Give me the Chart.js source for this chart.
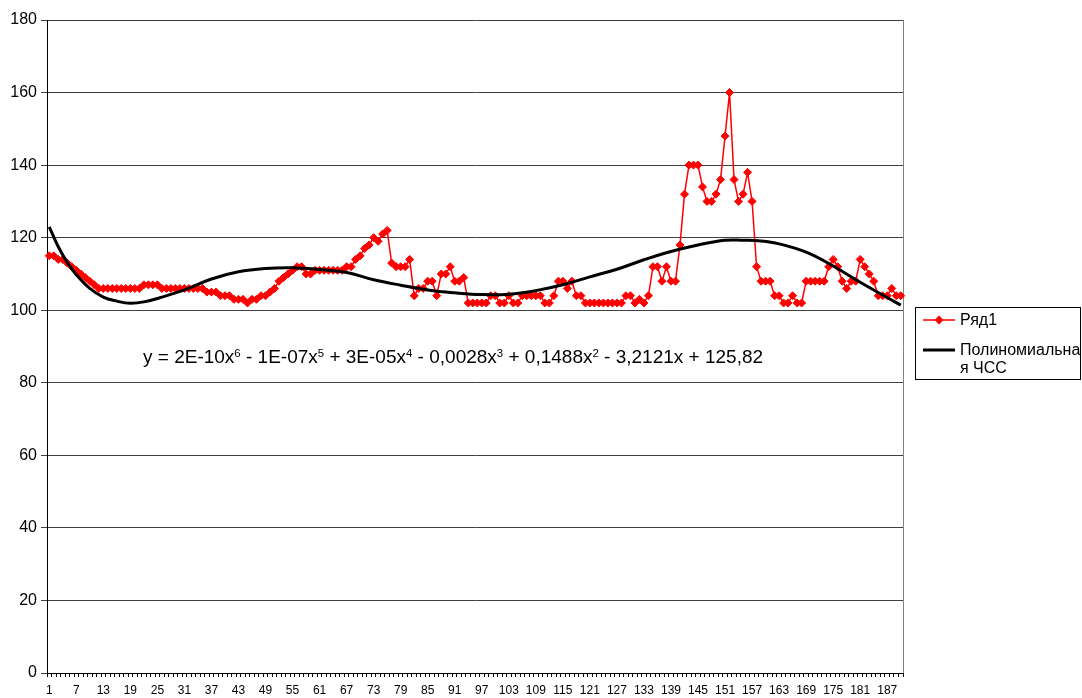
<!DOCTYPE html>
<html>
<head>
<meta charset="utf-8">
<script src="https://cdn.jsdelivr.net/npm/chart.js@4.4.1/dist/chart.umd.min.js"></script>
<style>
  html, body { margin: 0; padding: 0; background: #fff; }
  #wrap { position: relative; width: 1082px; height: 698px; overflow: hidden; }
  #eq {
    position: absolute; left: 143px; top: 346px;
    font-family: Arial, "Liberation Sans", sans-serif; font-size: 19px;
    color: #000; white-space: nowrap; line-height: 22px;
  }
  #eq sup { font-size: 0.6em; position: relative; top: -0.55em; vertical-align: baseline; line-height: 0; }
</style>
</head>
<body>
<div id="wrap">
  <canvas id="chart" width="1082" height="698"></canvas>
  <div id="eq">y = 2E-10x<sup>6</sup> - 1E-07x<sup>5</sup> + 3E-05x<sup>4</sup> - 0,0028x<sup>3</sup> + 0,1488x<sup>2</sup> - 3,2121x + 125,82</div>
</div>
<script>
// ─── DATA ───
// categories 1..190 (x axis is just the sample number)
const categories = Array.from({ length: 190 }, (_, i) => String(i + 1));
const xTickLabels = ['1','7','13','19','25','31','37','43','49','55','61','67','73','79','85','91','97',
  '103','109','115','121','127','133','139','145','151','157','163','169','175','181','187'];

// Ряд1 – heart rate readings
const hrValues = [
  115, 115, 114, 114, 113, 112, 111, 110, 109, 108,
  107, 106, 106, 106, 106, 106, 106, 106, 106, 106,
  106, 107, 107, 107, 107, 106, 106, 106, 106, 106,
  106, 106, 106, 106, 106, 105, 105, 105, 104, 104,
  104, 103, 103, 103, 102, 103, 103, 104, 104, 105,
  106, 108, 109, 110, 111, 112, 112, 110, 110, 111,
  111, 111, 111, 111, 111, 111, 112, 112, 114, 115,
  117, 118, 120, 119, 121, 122, 113, 112, 112, 112,
  114, 104, 106, 106, 108, 108, 104, 110, 110, 112,
  108, 108, 109, 102, 102, 102, 102, 102, 104, 104,
  102, 102, 104, 102, 102, 104, 104, 104, 104, 104,
  102, 102, 104, 108, 108, 106, 108, 104, 104, 102,
  102, 102, 102, 102, 102, 102, 102, 102, 104, 104,
  102, 103, 102, 104, 112, 112, 108, 112, 108, 108,
  118, 132, 140, 140, 140, 134, 130, 130, 132, 136,
  148, 160, 136, 130, 132, 138, 130, 112, 108, 108,
  108, 104, 104, 102, 102, 104, 102, 102, 108, 108,
  108, 108, 108, 112, 114, 112, 108, 106, 108, 108,
  114, 112, 110, 108, 104, 104, 104, 106, 104, 104
];

// polynomial trend at these categories
const trendCats = [1, 3, 5, 7, 10, 13, 16, 19, 22, 26, 31, 37, 43, 49, 55, 61, 67, 73, 79, 85,
  91, 97, 103, 109, 115, 121, 127, 133, 139, 145, 151, 155, 159, 163, 169, 175, 181, 187, 190];
const trendVals = [123, 117.5, 113.2, 109.8, 106, 103.6, 102.5, 101.9, 102.3, 103.6, 105.6, 108.6,
  110.6, 111.5, 111.7, 111.2, 110.4, 108.4, 106.9, 105.6, 104.8, 104.3, 104.4, 105.4, 107, 109.2,
  111.3, 113.9, 116.2, 118.0, 119.3, 119.3, 119.1, 118.3, 116, 112.2, 107.7, 103.5, 101.4];

const seriesName = 'Ряд1';
const trendName = 'Полиномиальная ЧСС';

// trend as sparse array over the categories
const trendData = categories.map(() => null);
trendCats.forEach((c, i) => { trendData[c - 1] = trendVals[i]; });

// ─── PLUGINS ───
const PLOT = { left: 47, right: 903, top: 20, bottom: 673 };

const frame = {
  id: 'frame',
  beforeDatasetsDraw(chart) {
    const ctx = chart.ctx, a = chart.chartArea;
    ctx.save();
    ctx.strokeStyle = '#808080';
    ctx.lineWidth = 1;
    ctx.beginPath();
    ctx.moveTo(Math.round(a.right) + 0.5, a.top);
    ctx.lineTo(Math.round(a.right) + 0.5, a.bottom);
    ctx.stroke();
    ctx.restore();
  }
};

const boxLegend = {
  id: 'boxLegend',
  afterDraw(chart) {
    const ctx = chart.ctx;
    ctx.save();
    ctx.strokeStyle = '#000';
    ctx.lineWidth = 1;
    ctx.strokeRect(915.5, 307.5, 165, 72);

    // Ряд1
    ctx.strokeStyle = '#ff0000';
    ctx.lineWidth = 1.5;
    ctx.beginPath(); ctx.moveTo(923, 320); ctx.lineTo(955, 320); ctx.stroke();
    ctx.fillStyle = '#ff0000';
    ctx.beginPath();
    ctx.moveTo(939, 315.5); ctx.lineTo(943.5, 320); ctx.lineTo(939, 324.5); ctx.lineTo(934.5, 320);
    ctx.closePath(); ctx.fill();

    // trend
    ctx.strokeStyle = '#000';
    ctx.lineWidth = 3;
    ctx.beginPath(); ctx.moveTo(923, 350); ctx.lineTo(955, 350); ctx.stroke();

    ctx.fillStyle = '#000';
    ctx.font = '16px Arial, "Liberation Sans", sans-serif';
    ctx.textBaseline = 'middle';
    ctx.fillText(seriesName, 960, 321);
    ctx.fillText('Полиномиальна', 960, 351);
    ctx.fillText('я ЧСС', 960, 369);
    ctx.restore();
  }
};

// ─── CHART ───
Chart.defaults.font.family = 'Arial, "Liberation Sans", sans-serif';
Chart.defaults.color = '#000';

new Chart(document.getElementById('chart'), {
  type: 'line',
  data: {
    labels: categories,
    datasets: [
      {
        label: trendName,
        data: trendData,
        borderColor: '#000',
        borderWidth: 3,
        pointRadius: 0,
        tension: 0.4,
        spanGaps: true,
        fill: false,
        order: 0
      },
      {
        label: seriesName,
        data: hrValues,
        borderColor: '#ff0000',
        backgroundColor: '#ff0000',
        borderWidth: 1.5,
        pointStyle: 'rectRot',
        pointRadius: 4,
        pointBorderWidth: 1,
        pointBackgroundColor: '#ff0000',
        pointBorderColor: '#ff0000',
        tension: 0,
        fill: false,
        order: 1
      }
    ]
  },
  options: {
    responsive: false,
    animation: false,
    events: [],
    layout: { padding: { left: 0, right: 1082 - PLOT.right, top: PLOT.top, bottom: 0 } },
    plugins: { legend: { display: false }, tooltip: { enabled: false } },
    scales: {
      x: {
        offset: true,
        afterFit: s => { s.height = 698 - PLOT.bottom; },
        grid: { display: true, drawOnChartArea: false, drawTicks: true, tickLength: 4, offset: true, color: '#000' },
        border: { display: true, color: '#000', width: 1 },
        ticks: {
          autoSkip: false, maxRotation: 0, minRotation: 0, padding: 6,
          font: { size: 12 },
          callback: (v, i) => (xTickLabels.includes(categories[i]) ? categories[i] : '')
        }
      },
      y: {
        min: 0, max: 180,
        afterFit: s => { s.width = PLOT.left; },
        grid: { color: '#404040', lineWidth: 1, drawTicks: true, tickLength: 6 },
        border: { display: true, color: '#000', width: 1 },
        ticks: { stepSize: 20, padding: 4, font: { size: 16 } }
      }
    }
  },
  plugins: [frame, boxLegend]
});
</script>
</body>
</html>
